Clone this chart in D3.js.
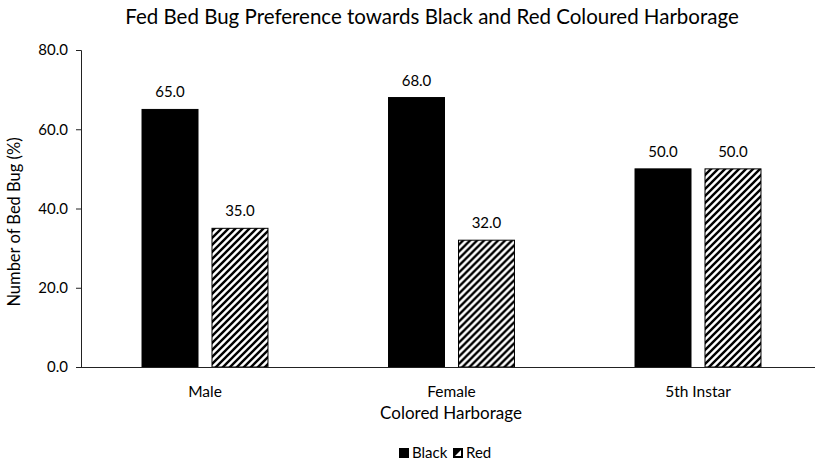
<!DOCTYPE html>
<html>
<head>
<meta charset="utf-8">
<script src="https://cdn.jsdelivr.net/npm/d3@7"></script>
<style>
  html, body { margin: 0; padding: 0; background: #fff; }
  svg text { font-family: Lato, "Open Sans", sans-serif; fill: #000; }
</style>
</head>
<body>
<svg id="chart" width="816" height="468"></svg>
<script>
// Chart data
const categories = ["Male", "Female", "5th Instar"];
const seriesNames = ["Black", "Red"];
const blackValues = [65.0, 68.0, 50.0];
const redValues = [35.0, 32.0, 50.0];
const yTicks = [0, 20, 40, 60, 80];

const title = "Fed Bed Bug Preference towards Black and Red Coloured Harborage";
const xTitle = "Colored Harborage";
const yTitle = "Number of Bed Bug (%)";

const svg = d3.select("#chart");

// Diagonal hatch used for the "Red" series
const defs = svg.append("defs");
const pat = defs.append("pattern")
  .attr("id", "hatch")
  .attr("patternUnits", "userSpaceOnUse")
  .attr("width", 7).attr("height", 7);
pat.append("rect").attr("width", 7).attr("height", 7).attr("fill", "#fff");
pat.append("path")
  .attr("d", "M-1,1 l2,-2 M0,7 l7,-7 M6,8 l2,-2")
  .attr("stroke", "#000").attr("stroke-width", 2.4);

const legendPat = defs.append("pattern")
  .attr("id", "hatchSmall")
  .attr("patternUnits", "objectBoundingBox")
  .attr("width", 1).attr("height", 1);
legendPat.append("rect").attr("width", 10).attr("height", 10).attr("fill", "#000");
legendPat.append("path").attr("d", "M2,8 L8,2 L8,8 Z").attr("fill", "#fff");

const fills = { Black: "#000", Red: "url(#hatch)" };

// Scales
const y = d3.scaleLinear().domain([0, 80]).range([367, 50]);
const x0 = d3.scaleBand().domain(categories)
  .range([81.75, 821.25]).paddingInner(0.489).paddingOuter(0.2445);
const x1 = d3.scaleBand().domain(seriesNames)
  .range([0, x0.bandwidth()]).paddingInner(0.2);

// Title
svg.append("text")
  .attr("x", 432).attr("y", 24)
  .attr("text-anchor", "middle")
  .attr("font-size", 20.5)
  .text(title);

// Y axis
const yAxis = d3.axisLeft(y).tickValues(yTicks)
  .tickFormat(d3.format(".1f")).tickSize(5).tickPadding(8);
const gy = svg.append("g").attr("transform", "translate(81,0)").call(yAxis);
gy.select(".domain").attr("stroke", "#222");
gy.selectAll(".tick line").attr("stroke", "#222");
gy.selectAll(".tick text").attr("font-size", 15)
  .attr("font-family", "Lato, 'Open Sans', sans-serif").attr("fill", "#000");

// Bars
const rows = categories.map((c, i) => ({ cat: c, vals: [
  { key: "Black", value: blackValues[i] },
  { key: "Red", value: redValues[i] }
]}));

const groups = svg.append("g").selectAll("g")
  .data(rows).join("g")
  .attr("transform", d => `translate(${x0(d.cat)},0)`);

groups.selectAll("rect")
  .data(d => d.vals).join("rect")
  .attr("x", d => x1(d.key))
  .attr("y", d => y(d.value))
  .attr("width", x1.bandwidth())
  .attr("height", d => y(0) - y(d.value))
  .attr("fill", d => fills[d.key])
  .attr("stroke", "#000").attr("stroke-width", 1);

groups.selectAll("text")
  .data(d => d.vals).join("text")
  .attr("x", d => x1(d.key) + x1.bandwidth() / 2)
  .attr("y", d => y(d.value) - 12)
  .attr("text-anchor", "middle")
  .attr("font-size", 15)
  .text(d => d.value.toFixed(1));

// X axis baseline and category labels
const xAxis = d3.axisBottom(x0).tickSize(0).tickPadding(19);
const gx = svg.append("g").attr("transform", "translate(0,367)").call(xAxis);
gx.select(".domain").attr("d", "M81,0.5H815").attr("stroke", "#222");
gx.selectAll(".tick text").attr("font-size", 15.5)
  .attr("font-family", "Lato, 'Open Sans', sans-serif").attr("fill", "#000");

// Axis titles
svg.append("text")
  .attr("x", 451).attr("y", 419)
  .attr("text-anchor", "middle")
  .attr("font-size", 17)
  .text(xTitle);

svg.append("text")
  .attr("transform", "translate(20,222) rotate(-90)")
  .attr("text-anchor", "middle")
  .attr("font-size", 16.5)
  .text(yTitle);

// Legend
const legend = svg.append("g").attr("transform", "translate(399,448)");
const items = legend.selectAll("g").data(seriesNames).join("g")
  .attr("transform", (d, i) => `translate(${i * 54},0)`);
items.append("rect")
  .attr("width", 10).attr("height", 10)
  .attr("fill", d => d === "Black" ? "#000" : "url(#hatchSmall)");
items.append("text")
  .attr("x", 13).attr("y", 10)
  .attr("font-size", 15)
  .text(d => d);
</script>
</body>
</html>
